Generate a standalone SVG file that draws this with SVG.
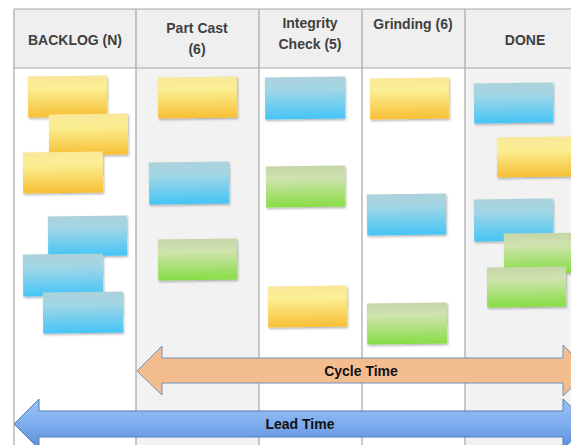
<svg xmlns="http://www.w3.org/2000/svg" width="571" height="445" viewBox="0 0 571 445">
<style>
.hdr{font-family:"Liberation Sans",Arial,sans-serif;font-weight:bold;font-size:14px;fill:#404040;text-anchor:middle}
.lbl{font-family:"Liberation Sans",Arial,sans-serif;font-weight:bold;font-size:14px;fill:#111;text-anchor:middle;dominant-baseline:central}
.grid{stroke:#a6a6a6;stroke-width:1.2;fill:none}
.y{fill:url(#gy)}
.b{fill:url(#gb)}
.g{fill:url(#gg)}
.note{filter:url(#sh)}
</style>
<defs>
<linearGradient id="gy" x1="0" y1="0" x2="0" y2="1"><stop offset="0" stop-color="#f9e79a"/><stop offset="0.3" stop-color="#fbef93"/><stop offset="1" stop-color="#f7bf35"/></linearGradient>
<linearGradient id="gb" x1="0" y1="0" x2="0" y2="1"><stop offset="0" stop-color="#acd2da"/><stop offset="0.3" stop-color="#a2d6e6"/><stop offset="1" stop-color="#45c5f6"/></linearGradient>
<linearGradient id="gg" x1="0" y1="0" x2="0" y2="1"><stop offset="0" stop-color="#c5d5a8"/><stop offset="0.3" stop-color="#cfe3ae"/><stop offset="1" stop-color="#88dd45"/></linearGradient>
<linearGradient id="gl" x1="0" y1="0" x2="0" y2="1"><stop offset="0" stop-color="#9cc3f5"/><stop offset="0.5" stop-color="#7eaced"/><stop offset="1" stop-color="#5a8fda"/></linearGradient>
<filter id="sh" x="-10%" y="-10%" width="125%" height="135%"><feDropShadow dx="1" dy="1.5" stdDeviation="0.8" flood-color="#000" flood-opacity="0.3"/></filter>
</defs>
<rect width="571" height="445" fill="#fff"/>
<g id="table">
<rect x="136" y="68" width="123" height="377" fill="#f2f2f2"/>
<rect x="465" y="68" width="106" height="377" fill="#f2f2f2"/>
<rect x="14" y="9" width="557" height="59" fill="#efefef"/>
<line class="grid" x1="14" y1="9" x2="571" y2="9"/>
<line class="grid" x1="14" y1="68" x2="571" y2="68"/>
<line class="grid" x1="14" y1="9" x2="14" y2="445"/>
<line class="grid" x1="136" y1="9" x2="136" y2="445"/>
<line class="grid" x1="259" y1="9" x2="259" y2="445"/>
<line class="grid" x1="362" y1="9" x2="362" y2="445"/>
<line class="grid" x1="465" y1="9" x2="465" y2="445"/>
</g>
<g id="headers">
<text class="hdr" x="75" y="45">BACKLOG (N)</text>
<text class="hdr" x="197" y="33">Part Cast</text>
<text class="hdr" x="197" y="54">(6)</text>
<text class="hdr" x="310" y="28">Integrity</text>
<text class="hdr" x="310" y="49">Check (5)</text>
<text class="hdr" x="413" y="29">Grinding (6)</text>
<text class="hdr" x="525" y="45">DONE</text>
</g>
<g id="notes-backlog" class="note">
<rect class="y" x="28" y="76" width="79" height="41" transform="rotate(-0.6 67 96)"/>
<rect class="y" x="49" y="114" width="79" height="41" transform="rotate(-0.6 88 134)"/>
<rect class="y" x="23" y="152" width="80" height="41" transform="rotate(-0.6 63 172)"/>
<rect class="b" x="48" y="216" width="79" height="40" transform="rotate(-0.6 87 236)"/>
<rect class="b" x="23" y="254" width="80" height="42" transform="rotate(-0.6 63 275)"/>
<rect class="b" x="43" y="292" width="80" height="41" transform="rotate(-0.6 83 312)"/>
</g>
<g id="notes-partcast" class="note">
<rect class="y" x="158" y="77" width="79" height="41" transform="rotate(-0.6 197 97)"/>
<rect class="b" x="149" y="162" width="80" height="42" transform="rotate(-0.6 189 183)"/>
<rect class="g" x="158" y="239" width="79" height="41" transform="rotate(-0.6 197 259)"/>
</g>
<g id="notes-integrity" class="note">
<rect class="b" x="265" y="77" width="80" height="42" transform="rotate(-0.6 305 98)"/>
<rect class="g" x="266" y="166" width="79" height="41" transform="rotate(-0.6 305 186)"/>
<rect class="y" x="268" y="286" width="79" height="41" transform="rotate(-0.6 307 306)"/>
</g>
<g id="notes-grinding" class="note">
<rect class="y" x="370" y="78" width="79" height="41" transform="rotate(-0.6 409 98)"/>
<rect class="b" x="367" y="194" width="79" height="41" transform="rotate(-0.6 406 214)"/>
<rect class="g" x="367" y="303" width="80" height="41" transform="rotate(-0.6 407 323)"/>
</g>
<g id="notes-done" class="note">
<rect class="b" x="474" y="83" width="79" height="40" transform="rotate(-0.6 513 103)"/>
<rect class="y" x="497" y="137" width="80" height="40" transform="rotate(-0.6 537 157)"/>
<rect class="b" x="474" y="199" width="79" height="42" transform="rotate(-0.6 513 220)"/>
<rect class="g" x="504" y="233" width="80" height="40" transform="rotate(-0.6 544 253)"/>
<rect class="g" x="487" y="267" width="79" height="40" transform="rotate(-0.6 526 287)"/>
</g>
<g id="connectors">
<g id="cycle-time">
<path d="M137 371 L162 346 L162 358 L563 358 L563 345 L589 371 L563 396 L563 383 L162 383 L162 395 Z" fill="#f4bd8f" stroke="#7590b6" stroke-width="1"/>
<text class="lbl" x="361" y="371">Cycle Time</text>
</g>
<g id="lead-time">
<path d="M14 424 L39 399 L39 411 L563 411 L563 399 L589 424 L563 449 L563 437 L39 437 L39 449 Z" fill="url(#gl)" stroke="#4f7fbf" stroke-width="1"/>
<text class="lbl" x="300" y="424">Lead Time</text>
</g>
</g>
</svg>
